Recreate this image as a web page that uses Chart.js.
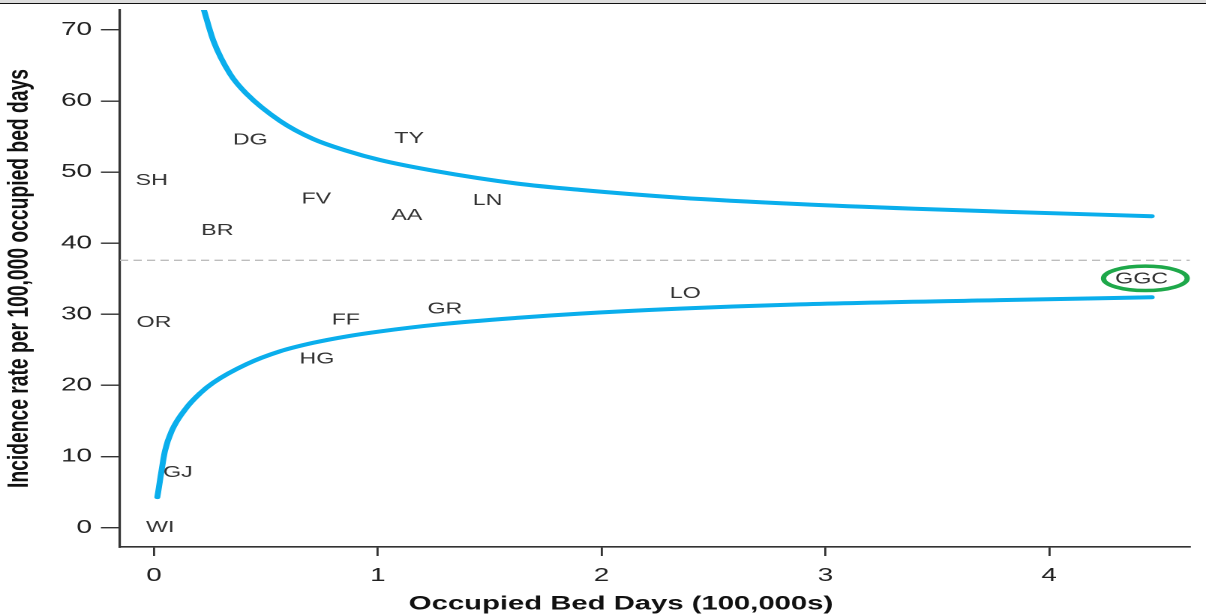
<!DOCTYPE html>
<html>
<head>
<meta charset="utf-8">
<script src="https://cdn.jsdelivr.net/npm/chart.js@4.4.1/dist/chart.umd.min.js"></script>
<style>
    html, body { margin: 0; padding: 0; background: #fff; overflow: hidden; }
    #wrap { position: relative; width: 1206px; height: 616px; }
    #topbar { position: absolute; left: 0; top: 0; width: 1206px; height: 3px; background: #dcdcdc; border-bottom: 1px solid #111; }
    #funnel { position: absolute; left: 0; top: 0; }
</style>
</head>
<body>
<div id="wrap">
    <!-- the reference is drawn squeezed and stretched 1.5x wide, so the canvas is too -->
    <canvas id="funnel" width="804" height="616" style="width:1206px;height:616px"></canvas>
    <div id="topbar"></div>
</div>
<script>
    // hospitals: occupied bed days (100,000s) and incidence rate
    const hospitals = ["SH", "DG", "TY", "FV", "AA", "LN", "BR", "GGC", "LO", "GR", "FF", "OR", "HG", "GJ", "WI"]
    const bedDays   = [-0.01, 0.43, 1.14, 0.725, 1.13, 1.49, 0.283, 4.413, 2.374, 1.3, 0.857, 0.0, 0.728, 0.107, 0.028]
    const rates     = [48.8, 54.5, 54.7, 46.2, 43.9, 46.0, 41.75, 34.95, 32.9, 30.7, 29.2, 28.85, 23.7, 7.7, 0.0]

    // control limits
    const upperX = [0.223, 0.265, 0.34, 0.414, 0.563, 0.712, 0.861, 1.01, 1.248, 1.62, 1.904, 2.35, 2.886, 3.4, 3.78, 4.458]
    const upperY = [72.8, 68.5, 63.8, 61.0, 57.2, 54.65, 53.0, 51.7, 50.2, 48.4, 47.5, 46.4, 45.5, 44.85, 44.45, 43.8]
    const lowerX = [0.015, 0.03, 0.049, 0.079, 0.146, 0.206, 0.265, 0.414, 0.563, 0.712, 0.861, 1.01, 1.278, 1.62, 1.904, 2.35, 2.886, 3.78, 4.458]
    const lowerY = [4.3, 7.3, 10.8, 13.6, 16.9, 18.9, 20.4, 23.0, 24.8, 26.0, 26.9, 27.6, 28.6, 29.5, 30.1, 30.8, 31.4, 32.0, 32.4]

    const meanRate = 37.6
    const xMin = -0.152, xMax = 4.629
    const yMin = -2.72, yMax = 72.8
    const highlight = "GGC"
    const xTitle = 'Occupied Bed Days (100,000s)'

    const FONT = '"Liberation Sans", Arial, Helvetica, sans-serif'
    const BLUE = '#0aaeec'

    const toPoints = (xs, ys) => xs.map((x, i) => ({ x: x, y: ys[i] }))

    // writes the hospital codes where their points are, rings the highlighted one,
    // and puts the x title where the original has it (a bit left of the axis centre)
    const labelPlugin = {
        id: 'labelPlugin',
        afterDatasetsDraw(chart) {
            const ctx = chart.ctx
            const meta = chart.getDatasetMeta(3)
            ctx.save()
            ctx.font = '15.5px ' + FONT
            ctx.fillStyle = '#333'
            ctx.textAlign = 'center'
            ctx.textBaseline = 'middle'
            meta.data.forEach((pt, i) => {
                ctx.fillText(hospitals[i], pt.x, pt.y)
                if (hospitals[i] === highlight) {
                    ctx.beginPath()
                    ctx.ellipse(pt.x + 2.5, pt.y - 0.8, 27.9, 12.2, 0, 0, Math.PI * 2)
                    ctx.strokeStyle = '#1ea84a'
                    ctx.lineWidth = 3.5
                    ctx.stroke()
                }
            })
            ctx.font = 'bold 19.5px ' + FONT
            ctx.fillStyle = '#111'
            ctx.fillText(xTitle, 414, chart.height - 12)
            ctx.restore()
        }
    }

    new Chart(document.getElementById('funnel'), {
        type: 'scatter',
        data: {
            datasets: [
                {
                    label: 'upper',
                    data: toPoints(upperX, upperY),
                    showLine: true,
                    borderColor: BLUE,
                    borderWidth: 4,
                    borderCapStyle: 'round',
                    cubicInterpolationMode: 'monotone',
                    pointRadius: 0
                },
                {
                    label: 'lower',
                    data: toPoints(lowerX, lowerY),
                    showLine: true,
                    borderColor: BLUE,
                    borderWidth: 4,
                    borderCapStyle: 'round',
                    cubicInterpolationMode: 'monotone',
                    pointRadius: 0
                },
                {
                    label: 'mean',
                    data: [{ x: xMin, y: meanRate }, { x: xMax, y: meanRate }],
                    showLine: true,
                    borderColor: '#bdbdbd',
                    borderWidth: 1.3,
                    borderDash: [5.5, 3.5],
                    pointRadius: 0
                },
                {
                    label: 'hospitals',
                    data: toPoints(bedDays, rates),
                    showLine: false,
                    pointRadius: 0
                }
            ]
        },
        options: {
            responsive: false,
            devicePixelRatio: 2,
            animation: false,
            layout: {
                padding: { top: 10, right: 10.7, bottom: 0, left: 0 }
            },
            plugins: {
                legend: { display: false },
                tooltip: { enabled: false }
            },
            scales: {
                x: {
                    type: 'linear',
                    min: xMin,
                    max: xMax,
                    afterFit: (s) => {
                        s.height = 69
                        s.paddingLeft = 0
                        s.paddingRight = 0
                    },
                    border: { color: '#333', width: 1.6 },
                    grid: {
                        drawOnChartArea: false,
                        color: '#333',
                        lineWidth: 1.4,
                        tickLength: 9
                    },
                    ticks: {
                        stepSize: 1,
                        includeBounds: false,
                        padding: 9,
                        color: '#222',
                        font: { family: FONT, size: 18.5 },
                        maxRotation: 0
                    }
                },
                y: {
                    type: 'linear',
                    min: yMin,
                    max: yMax,
                    afterFit: (s) => {
                        s.width = 80
                        s.paddingTop = 0
                        s.paddingBottom = 0
                    },
                    border: { color: '#333', width: 1.6 },
                    grid: {
                        drawOnChartArea: false,
                        color: '#333',
                        lineWidth: 1.4,
                        tickLength: 12.7
                    },
                    ticks: {
                        stepSize: 10,
                        includeBounds: false,
                        padding: 6,
                        color: '#222',
                        font: { family: FONT, size: 18.5 }
                    },
                    title: {
                        display: true,
                        text: 'Incidence rate per 100,000 occupied bed days',
                        color: '#111',
                        padding: { top: 1.5, bottom: 0 },
                        font: { family: FONT, size: 19.3, weight: 'bold' }
                    }
                }
            }
        },
        plugins: [labelPlugin]
    })
</script>
</body>
</html>
